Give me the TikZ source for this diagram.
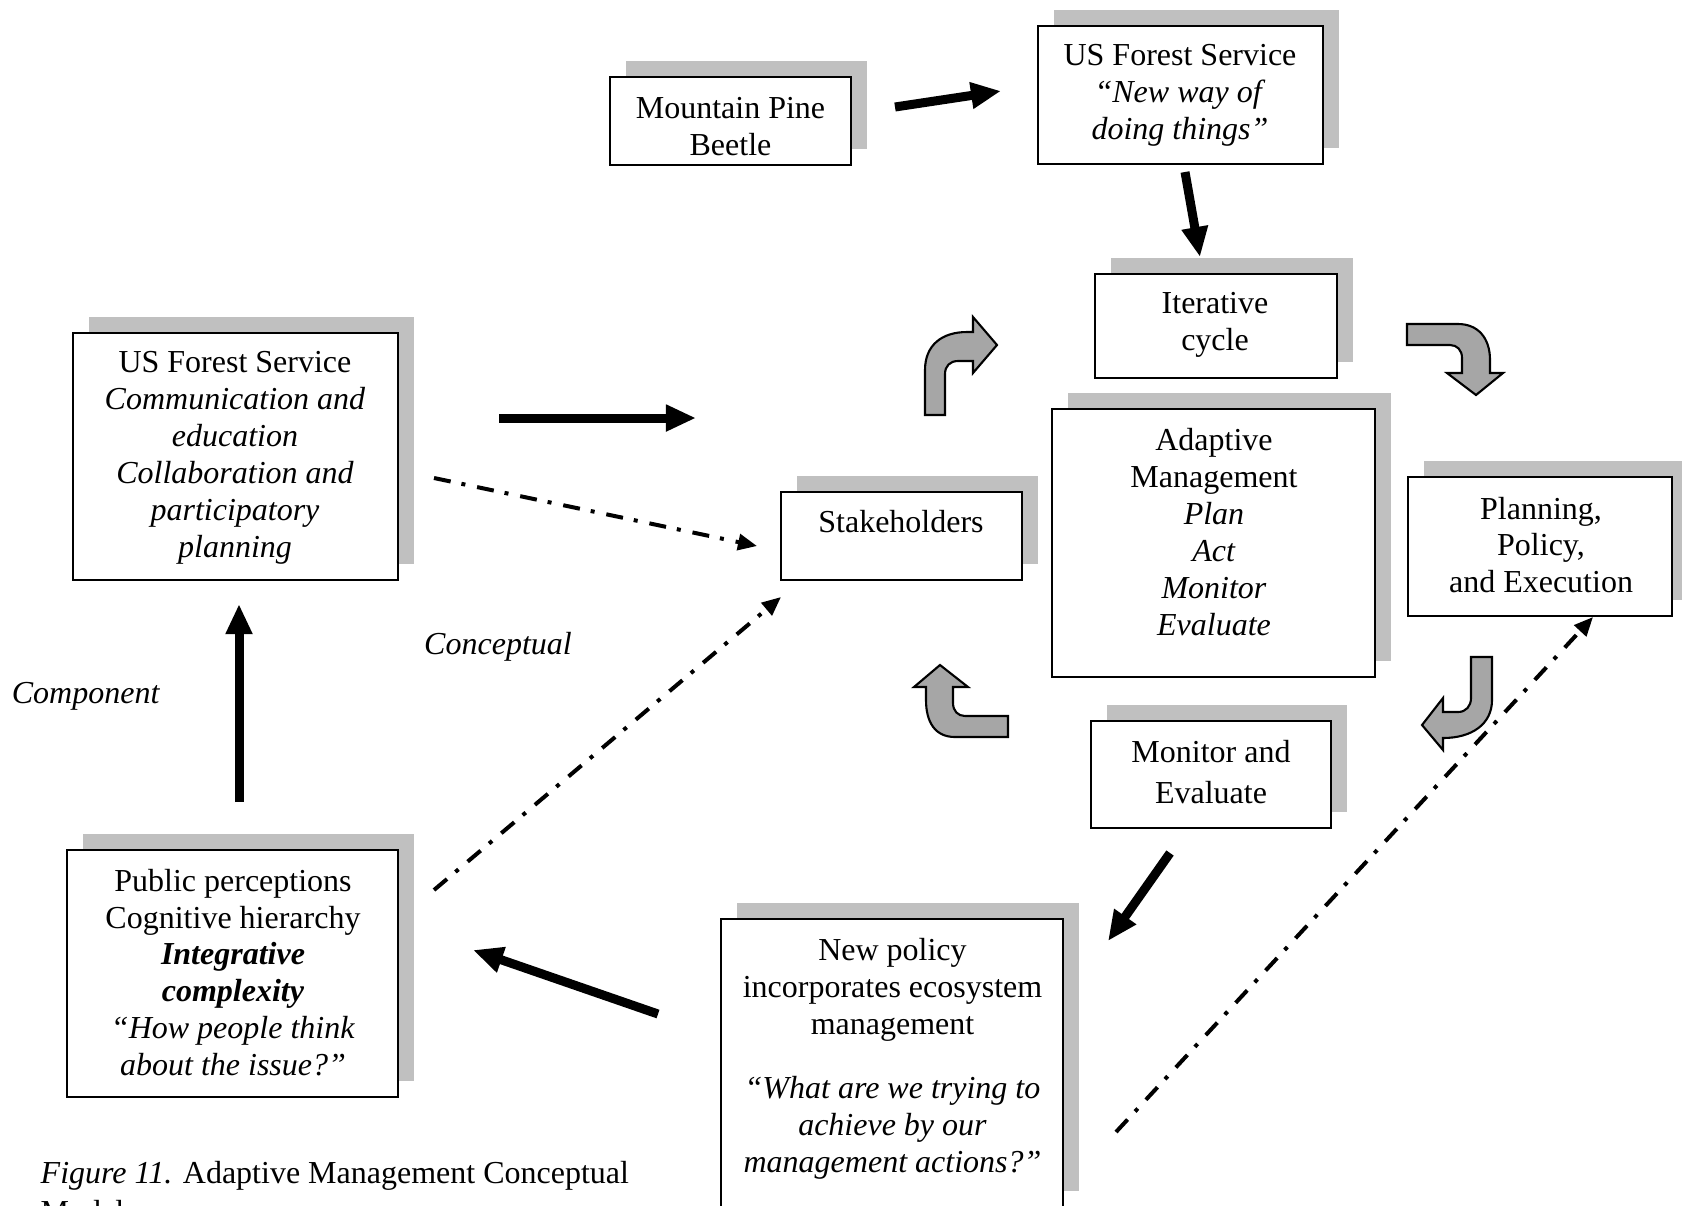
\documentclass[tikz,border=0pt]{standalone}
\usepackage{fontspec}
\setmainfont{Liberation Serif}
\usetikzlibrary{arrows.meta,shadows}
\definecolor{boxgray}{RGB}{192,192,192}
\definecolor{bendgray}{RGB}{166,166,166}
\tikzset{
	panel/.style={draw=black, line width=0.6pt, fill=white, inner sep=0pt,
		general shadow={fill=boxgray, shadow xshift=0.16cm, shadow yshift=0.16cm}},
	txt/.style={align=center, inner sep=0pt},
	bigarrow/.style={line width=0.09cm, -{Triangle[length=0.3cm,width=0.25cm]}},
	dashdot/.style={line width=0.04cm, dash pattern=on 0.17cm off 0.11cm on 0.04cm off 0.12cm,
		-{Triangle[length=0.19cm,width=0.16cm]}},
	bentarrow/.style={draw=black, line width=0.6pt, fill=bendgray, line join=miter}
}
\begin{document}
\begin{tikzpicture}[x=0.01cm, y=-0.01cm, font=\fontsize{9.1}{10.5}\selectfont]
	\useasboundingbox (0,0) rectangle (1682,1205);
	\clip (0,0) rectangle (1682,1205);

	\node[panel, minimum width=2.41cm, minimum height=0.88cm] (beetle) at (730.5,121) {};
	\node[txt] (beetle-txt) at (730.5,126.5) {Mountain Pine\\Beetle};
	\node[panel, minimum width=2.85cm, minimum height=1.38cm] (usfs) at (1180.5,95) {};
	\node[txt] (usfs-txt) at (1180,95) {US Forest Service\\\textit{“New way of}\\\textit{doing things”}};
	\node[panel, minimum width=2.42cm, minimum height=1.04cm] (iter) at (1216,326) {};
	\node[txt] (iter-txt) at (1215,325) {Iterative\\cycle};
	\node[panel, minimum width=3.23cm, minimum height=2.68cm] (adapt) at (1213.5,543) {};
	\node[txt] (adapt-txt) at (1214,532) {Adaptive\\Management\\\textit{Plan}\\\textit{Act}\\\textit{Monitor}\\\textit{Evaluate}};
	\node[panel, minimum width=2.64cm, minimum height=1.39cm] (plan) at (1540,546.5) {};
	\node[txt] (plan-txt) at (1541,545) {Planning,\\Policy,\\and Execution};
	\node[panel, minimum width=2.41cm, minimum height=0.88cm] (stake) at (901.5,536) {};
	\node[txt] (stake-txt) at (901,522) {Stakeholders};
	\node[panel, minimum width=2.40cm, minimum height=1.07cm] (monitor) at (1211,774.5) {};
	\node[txt] (monitor-txt) at (1211,772) {Monitor and\\[0.05cm]Evaluate};
	\node[panel, minimum width=3.42cm, minimum height=2.88cm] (newpol) at (892,1063) {};
	\node[txt] (newpol-txt) at (892.5,1058.5) {New policy\\incorporates ecosystem\\management\\[0.27cm]
		\textit{“What are we trying to}\\\textit{achieve by our}\\\textit{management actions?”}};
	\node[panel, minimum width=3.25cm, minimum height=2.47cm] (comm) at (235.5,456.5) {};
	\node[txt] (comm-txt) at (235,458) {US Forest Service\\\textit{Communication and}\\\textit{education}\\
		\textit{Collaboration and}\\\textit{participatory}\\\textit{planning}};
	\node[panel, minimum width=3.31cm, minimum height=2.47cm] (public) at (232.5,973.5) {};
	\node[txt] (public-txt) at (233,972.5) {Public perceptions\\Cognitive hierarchy\\\textbf{\textit{Integrative}}\\
		\textbf{\textit{complexity}}\\\textit{“How people think}\\\textit{about the issue?”}};

	\node[txt] (component) at (86,696) {\textit{Component}};
	\node[txt] (conceptual) at (498,647) {\textit{Conceptual}};
	\node[anchor=base west, inner sep=0pt] (caption) at (40,1183) {\textit{Figure 11.} Adaptive Management Conceptual};
	\node[anchor=base west, inner sep=0pt] (caption-2) at (40,1222) {Model.};

	\coordinate (beetle-out) at (895,107);
	\coordinate (usfs-in) at (1001,91);
	\coordinate (usfs-out) at (1185,172);
	\coordinate (iter-in) at (1200,257);
	\coordinate (comm-out) at (499,418);
	\coordinate (comm-end) at (696,418);
	\coordinate (public-up) at (239,802);
	\coordinate (comm-in) at (239,604);
	\coordinate (monitor-out) at (1170,853);
	\coordinate (newpol-in) at (1108,941);
	\coordinate (newpol-out) at (658,1014);
	\coordinate (public-in) at (473,950);
	\coordinate (comm-dash) at (434,478);
	\coordinate (stake-in) at (757,546);
	\coordinate (public-dash) at (434,890);
	\coordinate (stake-in2) at (781,597);
	\coordinate (newpol-dash) at (1116,1132);
	\coordinate (plan-in) at (1593,617);

	\draw[bigarrow] (beetle-out) -- (usfs-in);
	\draw[bigarrow] (usfs-out) -- (iter-in);
	\draw[bigarrow] (comm-out) -- (comm-end);
	\draw[bigarrow] (public-up) -- (comm-in);
	\draw[bigarrow] (monitor-out) -- (newpol-in);
	\draw[bigarrow] (newpol-out) -- (public-in);
	\draw[dashdot] (comm-dash) -- (stake-in);
	\draw[dashdot] (public-dash) -- (stake-in2);
	\draw[dashdot] (newpol-dash) -- (plan-in);

	\draw[bentarrow] (925,415) -- (925,370) .. controls (925,345) and (942,332) .. (967,332)
		-- (973,332) -- (973,317) -- (997,345) -- (973,373) -- (973,361) -- (958,361)
		.. controls (950,361) and (945,366) .. (945,374) -- (945,415) -- cycle;
	\draw[bentarrow] (1407,324) -- (1458,324) .. controls (1478,324) and (1490,338) .. (1490,360)
		-- (1490,373) -- (1503,373) -- (1476,395) -- (1447,373) -- (1462,373) -- (1462,358)
		.. controls (1462,350) and (1457,345) .. (1450,345) -- (1407,345) -- cycle;
	\draw[bentarrow] (1008,716) -- (965,716) .. controls (958,716) and (953,711) .. (953,703)
		-- (953,687) -- (968,687) -- (940,665) -- (914,687) -- (926,687) -- (926,700)
		.. controls (926,722) and (935,737) .. (955,737) -- (1008,737) -- cycle;
	\draw[bentarrow] (1471,657) -- (1492,657) -- (1492,700) .. controls (1492,724) and (1472,738) .. (1443,738)
		-- (1443,750) -- (1422,725) -- (1443,698) -- (1443,712) -- (1458,712)
		.. controls (1466,712) and (1471,706) .. (1471,698) -- cycle;
\end{tikzpicture}
\end{document}
